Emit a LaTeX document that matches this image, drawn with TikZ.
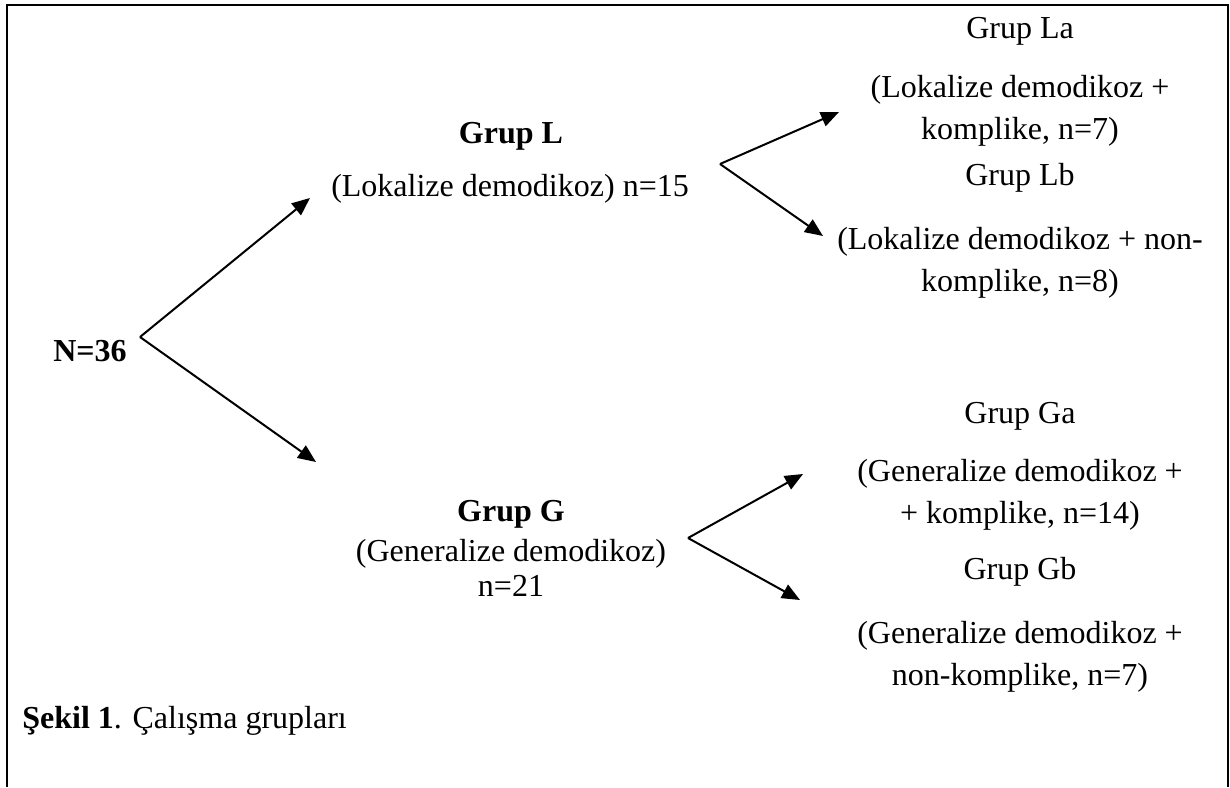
\documentclass[tikz,border=0pt]{standalone}
\usepackage{fontspec}
\setmainfont{Liberation Serif}
\usetikzlibrary{arrows.meta}
\begin{document}
\begin{tikzpicture}[x=0.5pt, y=-0.5pt,
  every node/.style={font=\fontsize{16}{21}\selectfont, inner sep=0pt, align=center},
  grp/.style={font=\fontsize{16}{21}\selectfont\bfseries},
  branch/.style={line width=1pt, -{Triangle[length=9pt,width=7.5pt]}}]

\useasboundingbox (0,0) rectangle (1230,787);

% the open frame
\draw[line width=1.2pt] (7,787) -- (7,5) -- (1228,5) -- (1228,787);

% the total
\node[grp] (total) at (90,351) {N=36};

% first level groups
\node[grp] (grpL) at (511,136) {Grup L};
\node (grpLtxt) at (510,189) {(Lokalize demodikoz) n=15};
\node[grp] (grpG) at (511,514) {Grup G};
\node (grpGtxt) at (511,554) {(Generalize demodikoz)};
\node (grpGn) at (511,586) {n=21};

% second level groups
\node (grpLa) at (1020,31) {Grup La};
\node (grpLatxt) at (1020,111) {(Lokalize demodikoz +\\ komplike, n=7)};
\node (grpLb) at (1020,178) {Grup Lb};
\node (grpLbtxt) at (1020,263) {(Lokalize demodikoz + non-\\ komplike, n=8)};
\node (grpGa) at (1020,416) {Grup Ga};
\node (grpGatxt) at (1020,495) {(Generalize demodikoz +\\ + komplike, n=14)};
\node (grpGb) at (1020,572) {Grup Gb};
\node (grpGbtxt) at (1020,657) {(Generalize demodikoz +\\ non-komplike, n=7)};

% fork points and arrow ends
\coordinate (forkN) at (140,337);
\coordinate (toL) at (310,198);
\coordinate (toG) at (316,462);
\coordinate (forkL) at (720,164);
\coordinate (toLa) at (839,112);
\coordinate (toLb) at (823,236);
\coordinate (forkG) at (688,538);
\coordinate (toGa) at (803,474);
\coordinate (toGb) at (800,600);

% the arrows
\draw[branch] (forkN) -- (toL);
\draw[branch] (forkN) -- (toG);
\draw[branch] (forkL) -- (toLa);
\draw[branch] (forkL) -- (toLb);
\draw[branch] (forkG) -- (toGa);
\draw[branch] (forkG) -- (toGb);

% caption
\node[anchor=west] (caption) at (22,721) {\textbf{Şekil 1}. Çalışma grupları};

\end{tikzpicture}
\end{document}
